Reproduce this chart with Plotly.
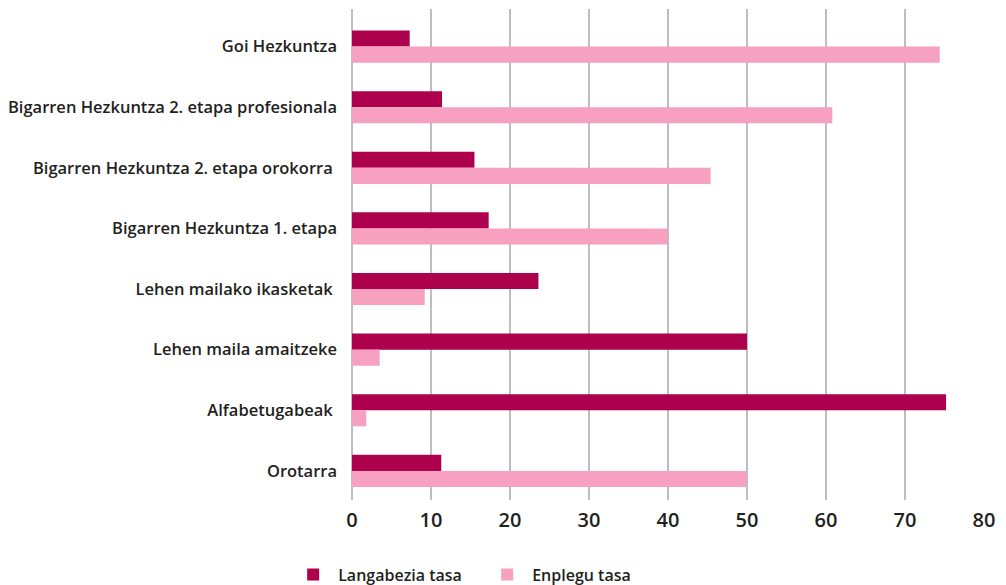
import plotly.graph_objects as go

categories = [
    "Goi Hezkuntza",
    "Bigarren Hezkuntza 2. etapa profesionala",
    "Bigarren Hezkuntza 2. etapa orokorra ",
    "Bigarren Hezkuntza 1. etapa",
    "Lehen mailako ikasketak ",
    "Lehen maila amaitzeke",
    "Alfabetugabeak ",
    "Orotarra",
]
langabezia = [7.3, 11.4, 15.5, 17.3, 23.6, 50.0, 75.2, 11.3]
enplegu = [74.4, 60.8, 45.4, 39.9, 9.2, 3.5, 1.8, 49.9]
series_names = ["Langabezia tasa", "Enplegu tasa"]
x_ticks = [0, 10, 20, 30, 40, 50, 60, 70, 80]

DARK = "#AD004D"
PINK = "#F7A0BF"
TEXT = "#231F20"
FONT = "Open Sans"

fig = go.Figure()
fig.add_trace(go.Bar(y=categories, x=langabezia, orientation="h", name=series_names[0],
                     marker=dict(color=DARK, line=dict(width=0))))
fig.add_trace(go.Bar(y=categories, x=enplegu, orientation="h", name=series_names[1],
                     marker=dict(color=PINK, line=dict(width=0))))

# page body has an 8px margin, so the figure is 998x577 placed at (8, 8)
fig.update_layout(
    width=998, height=577,
    margin=dict(l=344, r=22, t=1, b=85, autoexpand=False),
    paper_bgcolor="white", plot_bgcolor="white",
    barmode="group", bargap=0.47, bargroupgap=0,
    font=dict(family=FONT, color=TEXT),
    showlegend=True,
    legend=dict(orientation="h", x=-0.101, xanchor="left", y=-0.152, yanchor="middle",
                font=dict(size=16, color=TEXT, family=FONT, weight=600),
                itemwidth=40, traceorder="normal", entrywidth=139, entrywidthmode="pixels"),
    xaxis=dict(range=[0, 80], tickvals=x_ticks, showgrid=True, gridcolor="#BDBDC2", gridwidth=2,
               zeroline=True, zerolinecolor="#BDBDC2", zerolinewidth=2, showline=False,
               automargin=False,
               tickfont=dict(size=20, color=TEXT, family=FONT, weight=600), ticks="", ticklabelstandoff=6),
    yaxis=dict(categoryorder="array", categoryarray=categories, range=[7.48, -0.62],
               automargin=False,
               tickfont=dict(size=16.5, color=TEXT, family=FONT, weight=600), ticks="",
               showgrid=False, ticklabelstandoff=14),
)

fig.write_html("out.html")
